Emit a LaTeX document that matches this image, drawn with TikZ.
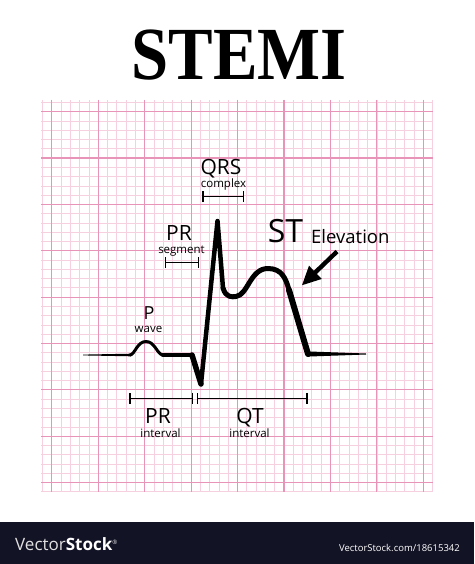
\documentclass[tikz,border=0pt]{standalone}
\usepackage{fontspec}
\setmainfont{Open Sans}
\newfontfamily\titlefont{Liberation Serif}
\usetikzlibrary{arrows.meta}
\definecolor{minorgrid}{RGB}{247,208,223}
\definecolor{majorgrid}{RGB}{232,148,184}
\definecolor{barbg}{RGB}{19,19,38}
\begin{document}
\begin{tikzpicture}[x=1pt,y=-1pt,
  minorline/.style={draw=minorgrid,line width=0.7pt},
  majorline/.style={draw=majorgrid,line width=1.1pt},
  lbl/.style={inner sep=0pt,anchor=base,text=black},
  bigtxt/.style={font=\fontsize{21}{21}\selectfont,text depth=0pt},
  smalltxt/.style={font=\fontsize{11.5}{11.5}\selectfont},
  ivbar/.style={line width=1.4pt,{Bar[width=11pt]}-{Bar[width=11pt]}},
  ecg/.style={line cap=round,line join=round,draw=black},
  starrow/.style={line width=4.4pt,-{Triangle[length=19pt,width=17pt]}}]
\useasboundingbox (0,0) rectangle (474,564);
\fill[white] (0,0) rectangle (474,564);
% grid
\foreach \k in {-1,...,41} {
  \pgfmathsetmacro\xx{51.7+\k*9.29}
  \pgfmathsetmacro\yy{111.7+\k*9.27}
  \draw[minorline] (\xx,100) -- (\xx,492);
  \draw[minorline] (41,\yy) -- (433,\yy);
}
\foreach \k in {0,5,...,40} {
  \pgfmathsetmacro\xx{51.7+\k*9.29}
  \pgfmathsetmacro\yy{111.7+\k*9.27}
  \draw[majorline] (\xx,100) -- (\xx,492);
  \draw[majorline] (41,\yy) -- (433,\yy);
}
% title
\node[inner sep=0pt,anchor=base] (title) at (239,80)
  {\titlefont\bfseries\fontsize{75}{75}\selectfont\scalebox{0.89}[1]{STEMI}};
% ECG trace
\fill (83,354.6) -- (131,353.7) -- (131,356.3) -- (83,355.4) -- cycle;
\draw[ecg,line width=3pt] (130,355) .. controls (135,354.5) and (137,341.5) .. (146,341.5)
  .. controls (155,341.5) and (157,354.5) .. (163,355);
\draw[ecg,line width=4.5pt] (163,355) -- (192,355);
\draw[ecg,line width=5.5pt] (192,355) -- (201,384);
\draw[ecg,line width=4.5pt] (201,384) -- (217.5,221) -- (223,288);
\draw[ecg,line width=5pt] (223,288) .. controls (226,298) and (232,297) .. (236,296.5)
  .. controls (248,295) and (250,268.5) .. (268,268.5)
  .. controls (282,268.5) and (286,279) .. (289,290);
\draw[ecg,line width=6pt] (289,290) -- (308,354);
\fill (307,351.4) -- (366,353.5) -- (366,354.5) -- (307,356.6) -- cycle;
% arrow
\coordinate (arrtail) at (337,251.5);
\coordinate (arrtip) at (301.7,285.5);
\draw[starrow] (arrtail) -- (arrtip);
% interval bars
\coordinate (qrsL) at (202.3,196.7); \coordinate (qrsR) at (244.3,196.7);
\coordinate (prsL) at (165,262.7);   \coordinate (prsR) at (199,262.7);
\coordinate (priL) at (129.3,398.3); \coordinate (priR) at (193.3,398.3);
\coordinate (qtL) at (196.7,398.3);  \coordinate (qtR) at (307.7,398.3);
\draw[ivbar] (qrsL) -- (qrsR);
\draw[ivbar] (prsL) -- (prsR);
\draw[ivbar] (priL) -- (priR);
\draw[ivbar] (qtL) -- (qtR);
% labels
\node[lbl,bigtxt] (qrs) at (221,174.5) {QRS};
\node[lbl,smalltxt] (complex) at (223.5,187) {complex};
\node[lbl,bigtxt] (prseg) at (179,240.5) {PR};
\node[lbl,smalltxt] (segment) at (181.5,253) {segment};
\node[lbl,font=\fontsize{32}{32}\selectfont] (st) at (285.5,242) {ST};
\node[lbl,anchor=base west,font=\fontsize{18.5}{18.5}\selectfont] (elev) at (311,243) {Elevation};
\node[lbl,font=\fontsize{18}{18}\selectfont,text depth=0pt] (pw) at (149,319.5) {P};
\node[lbl,smalltxt] (wave) at (148.5,332) {wave};
\node[lbl,bigtxt] (pri) at (158,423.5) {PR};
\node[lbl,smalltxt] (priint) at (160.5,437) {interval};
\node[lbl,bigtxt] (qt) at (250,423.5) {QT};
\node[lbl,smalltxt] (qtint) at (249.5,437) {interval};
% footer
\fill[barbg] (0,521.7) rectangle (474,564);
\node[inner sep=0pt,anchor=base west,text=white!88!black,font=\fontsize{17}{17}\selectfont] (vs) at (15,550)
  {Vector\textbf{\color{white}Stock}\raisebox{6pt}{\fontsize{6}{6}\selectfont\textregistered}};
\node[inner sep=0pt,anchor=base east,text=white,font=\fontsize{9.5}{9.5}\selectfont] (vsurl) at (460,551)
  {VectorStock.com/18615342};
\end{tikzpicture}
\end{document}
